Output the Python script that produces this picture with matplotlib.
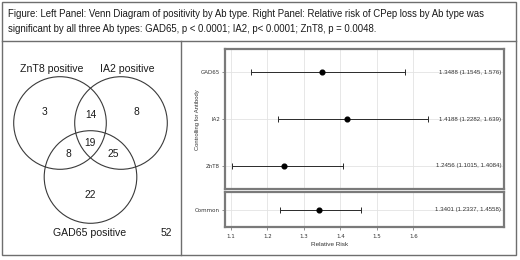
import matplotlib
matplotlib.use("Agg")
import matplotlib.pyplot as plt
from matplotlib.patches import Circle, Rectangle
from matplotlib.lines import Line2D

# ---------------- data ----------------
title_lines = [
    "Figure: Left Panel: Venn Diagram of positivity by Ab type. Right Panel: Relative risk of CPep loss by Ab type was",
    "significant by all three Ab types: GAD65, p < 0.0001; IA2, p< 0.0001; ZnT8, p = 0.0048.",
]
venn_sets = ["ZnT8 positive", "IA2 positive", "GAD65 positive"]
venn_regions = ["ZnT8 only", "ZnT8+IA2", "IA2 only", "all three", "ZnT8+GAD65", "IA2+GAD65", "GAD65 only", "none"]
venn_counts = [3, 14, 8, 19, 8, 25, 22, 52]

ab_labels = ["GAD65", "IA2", "ZnT8"]
ab_est = [1.3488, 1.4188, 1.2456]
ab_lo = [1.1545, 1.2282, 1.1015]
ab_hi = [1.576, 1.639, 1.4084]

common_label = ["Common"]
common_est = [1.3401]
common_lo = [1.2337]
common_hi = [1.4558]

xticks = [1.1, 1.2, 1.3, 1.4, 1.5, 1.6]
xlabel = "Relative Risk"
ylabel = "Controlling for Antibody"

# ---------------- figure ----------------
W, H = 520, 260
fig = plt.figure(figsize=(W / 100, H / 100), dpi=100)
fig.patch.set_facecolor("white")

def px_axes(x0, y0, x1, y1, **kw):
    return fig.add_axes([x0 / W, 1 - y1 / H, (x1 - x0) / W, (y1 - y0) / H], **kw)

# overlay axes in pixel coordinates
ov = px_axes(0, 0, W, H)
ov.set_xlim(0, W)
ov.set_ylim(H, 0)
ov.axis("off")

frame_col = "#6e6e6e"
ov.add_patch(Rectangle((2, 2), 514, 253, fill=False, ec=frame_col, lw=1.0))
ov.add_line(Line2D([2, 516], [41, 41], color=frame_col, lw=1.0))
ov.add_line(Line2D([181, 181], [41, 255], color=frame_col, lw=1.0))

title_font = dict(family=["Liberation Sans", "DejaVu Sans"], fontsize=6.9, color="#1a1a1a")
ov.text(8, 14, title_lines[0], ha="left", va="center", **title_font)
ov.text(8, 29, title_lines[1], ha="left", va="center", **title_font)

# ---------------- Venn ----------------
circ_col = "#3a3a3a"
centers = [(60, 123), (121, 123), (90.5, 177)]
r = 46.3
for (cx, cy) in centers:
    ov.add_patch(Circle((cx, cy), r, fill=False, ec=circ_col, lw=0.8))

vfont = dict(family=["Liberation Sans", "DejaVu Sans"], color="#1a1a1a")
set_pos = [(52, 69), (127, 69), (90, 233)]
for name, (x, y) in zip(venn_sets, set_pos):
    ov.text(x, y, name, ha="center", va="center", fontsize=7.6, **vfont)

region_pos = [(44, 112), (91, 115), (136, 112), (90, 143), (68, 154), (113, 154), (90, 195), (166, 233)]
for c, (x, y) in zip(venn_counts, region_pos):
    ov.text(x, y, str(c), ha="center", va="center", fontsize=7.4, **vfont)

# ---------------- Forest plot ----------------
xl = (1.0835, 1.8488)
spine_col = "#7a7a7a"
grid_col = "#e3e3e3"
small = dict(family=["Liberation Sans", "DejaVu Sans"], color="#333333")

def style(ax):
    for s in ax.spines.values():
        s.set_color(spine_col)
        s.set_linewidth(1.6)
    ax.set_xlim(*xl)
    ax.set_xticks(xticks)
    ax.grid(True, color=grid_col, lw=0.6)
    ax.set_axisbelow(True)
    ax.tick_params(axis="both", length=2, width=0.5, color="#666666", labelsize=4.0,
                   labelcolor="#333333", pad=1.5)

def draw_rows(ax, labels, est, lo, hi):
    n = len(labels)
    ys = list(range(n, 0, -1))
    err = [[e - l for e, l in zip(est, lo)], [h - e for e, h in zip(est, hi)]]
    ax.errorbar(est, ys, xerr=err, fmt="o", color="black", ms=3.4, ecolor="#2a2a2a",
                elinewidth=0.7, capsize=2.2, capthick=0.7, zorder=3)
    ax.set_ylim(0.5, n + 0.5)
    ax.set_yticks(ys)
    ax.set_yticklabels(labels)
    for y, e, l, h in zip(ys, est, lo, hi):
        ax.text(0.99, y, f"{e} ({l}, {h})", transform=ax.get_yaxis_transform(),
                ha="right", va="center", fontsize=4.4, **small)

ax1 = px_axes(225, 49, 504, 189)
style(ax1)
draw_rows(ax1, ab_labels, ab_est, ab_lo, ab_hi)
ax1.tick_params(axis="x", labelbottom=False, length=0)

ax2 = px_axes(225, 192, 504, 227)
style(ax2)
draw_rows(ax2, common_label, common_est, common_lo, common_hi)
ax2.set_xticklabels([str(t) for t in xticks])
ax2.tick_params(axis="x", pad=3)
ax2.set_xlabel(xlabel, fontsize=4.6, **small)
ax2.xaxis.set_label_coords((330 - 225) / 279, -0.42)

ov.text(197, 120, ylabel, rotation=90, ha="center", va="center", fontsize=4.2, **small)

fig.savefig("out.png", dpi=100, facecolor="white")
